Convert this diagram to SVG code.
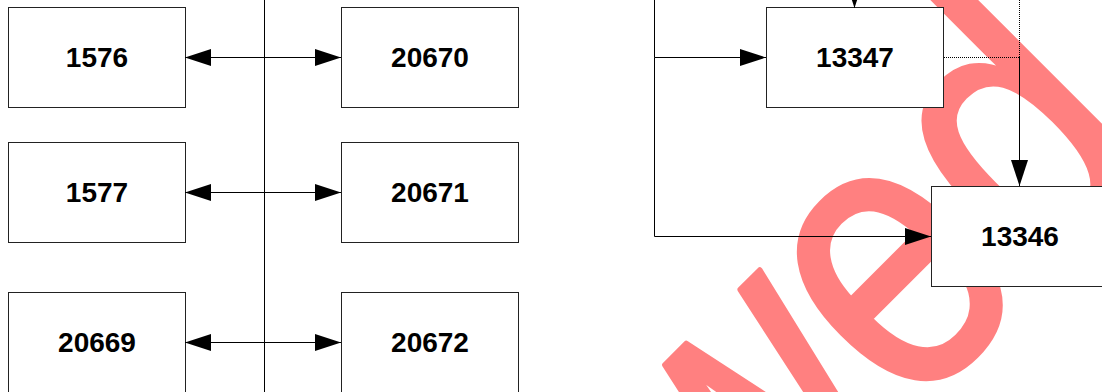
<svg xmlns="http://www.w3.org/2000/svg" width="1102" height="392" viewBox="0 0 1102 392">
<style>
.box{fill:#fff;stroke:#222;stroke-width:1}
.lbl{font-family:"Liberation Sans",Arial,sans-serif;font-weight:bold;font-size:28px;fill:#000;text-anchor:middle}
.ln{fill:none;stroke:#000;stroke-width:1}
.dot{fill:none;stroke:#000;stroke-width:1;stroke-dasharray:1 1}
.wm{font-family:"Liberation Sans",Arial,sans-serif;font-size:396px;fill:#ff8080;stroke:#ff8080;stroke-width:6;stroke-linejoin:round;text-anchor:end}
</style>
<defs>
<marker id="ah" markerUnits="userSpaceOnUse" markerWidth="26" markerHeight="17" refX="26" refY="8.5" orient="auto-start-reverse" viewBox="0 0 26 17">
<path d="M0,0 L26,8.5 L0,17 Z" fill="#000"/>
</marker>
</defs>
<rect width="1102" height="392" fill="#fff"/>
<g id="watermark">
<text class="wm" transform="translate(1166,160) rotate(-45) scale(0.83,1)">Reviewed</text>
</g>
<g id="n1576"><rect class="box" x="8.5" y="7.5" width="177" height="100"/><text class="lbl" x="97" y="67">1576</text></g>
<g id="n20670"><rect class="box" x="341.5" y="7.5" width="177" height="100"/><text class="lbl" x="430" y="67">20670</text></g>
<g id="n1577"><rect class="box" x="8.5" y="142.5" width="177" height="100"/><text class="lbl" x="97" y="202">1577</text></g>
<g id="n20671"><rect class="box" x="341.5" y="142.5" width="177" height="100"/><text class="lbl" x="430" y="202">20671</text></g>
<g id="n20669"><rect class="box" x="8.5" y="292.5" width="177" height="100"/><text class="lbl" x="97" y="352">20669</text></g>
<g id="n20672"><rect class="box" x="341.5" y="292.5" width="177" height="100"/><text class="lbl" x="430" y="352">20672</text></g>
<g id="n13347"><rect class="box" x="766.5" y="7.5" width="177" height="100"/><text class="lbl" x="855" y="67">13347</text></g>
<g id="n13346"><rect class="box" x="931.5" y="186.5" width="177" height="100"/><text class="lbl" x="1020" y="246">13346</text></g>
<g id="connectors">
<line class="ln" x1="264.5" y1="0" x2="264.5" y2="392"/>
<line class="ln" x1="185" y1="57.5" x2="341" y2="57.5" marker-start="url(#ah)" marker-end="url(#ah)"/>
<line class="ln" x1="185" y1="192.5" x2="341" y2="192.5" marker-start="url(#ah)" marker-end="url(#ah)"/>
<line class="ln" x1="185" y1="342.5" x2="341" y2="342.5" marker-start="url(#ah)" marker-end="url(#ah)"/>
<line class="ln" x1="854.5" y1="-30" x2="854.5" y2="8" marker-end="url(#ah)"/>
<polyline class="ln" points="654.5,0 654.5,57.5 766,57.5" marker-end="url(#ah)"/>
<polyline class="ln" points="654.5,57.5 654.5,236.5 931,236.5" marker-end="url(#ah)"/>
<line class="dot" x1="944" y1="57.5" x2="1019.5" y2="57.5"/>
<line class="dot" x1="1019.5" y1="0" x2="1019.5" y2="57"/>
<line class="ln" x1="1019.5" y1="57" x2="1019.5" y2="186" stroke="#333" marker-end="url(#ah)"/>
</g>
</svg>
